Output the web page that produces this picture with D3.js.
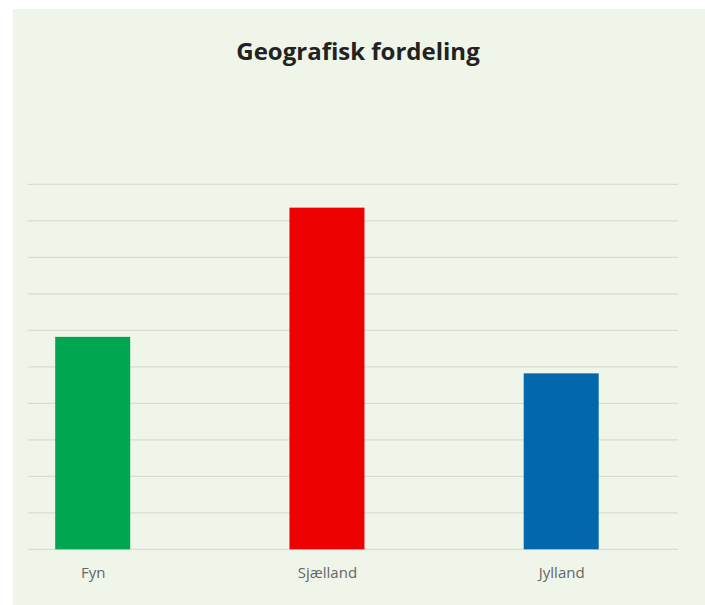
<!DOCTYPE html>
<html>
<head>
<meta charset="utf-8">
<script src="https://cdn.jsdelivr.net/npm/d3@7"></script>
<style>
  html, body { margin: 0; padding: 0; background: #ffffff; }
  svg { display: block; }
</style>
</head>
<body>
<svg id="chart" width="705" height="605"></svg>
<script>
const title = "Geografisk fordeling";
const categories = ["Fyn", "Sjælland", "Jylland"];
const values = [29.1, 46.8, 24.1];
const barColors = ["#00a650", "#ee0000", "#0268ad"];
const yTicks = [0, 5, 10, 15, 20, 25, 30, 35, 40, 45, 50];

const svg = d3.select("#chart");

svg.append("rect")
  .attr("x", 13).attr("y", 9)
  .attr("width", 692).attr("height", 596)
  .attr("fill", "#eff5e8");

const plotLeft = 28, plotRight = 678;
const y = d3.scaleLinear().domain([0, 50]).range([549.3, 184.3]);
const x = d3.scalePoint().domain(categories).range([92.7, 561.2]);
const barW = 75;

// gridlines
svg.append("g").selectAll("line")
  .data(yTicks)
  .join("line")
  .attr("x1", plotLeft).attr("x2", plotRight)
  .attr("y1", d => y(d)).attr("y2", d => y(d))
  .attr("stroke", "#d8ddd2")
  .attr("stroke-width", 1.3);

// bars
svg.append("g").selectAll("rect")
  .data(categories)
  .join("rect")
  .attr("x", d => x(d) - barW / 2)
  .attr("width", barW)
  .attr("y", (d, i) => y(values[i]))
  .attr("height", (d, i) => y(0) - y(values[i]))
  .attr("fill", (d, i) => barColors[i]);

// x axis labels
const xAxis = d3.axisBottom(x).tickSize(0).tickPadding(0);
const ax = svg.append("g")
  .attr("transform", `translate(0, 567)`)
  .call(xAxis);
ax.select(".domain").remove();
ax.selectAll("text")
  .attr("font-family", "'Open Sans', sans-serif")
  .attr("font-size", 15)
  .attr("fill", "#666666");

// title
svg.append("text")
  .attr("x", 358)
  .attr("y", 60)
  .attr("text-anchor", "middle")
  .attr("font-family", "'Open Sans', sans-serif")
  .attr("font-weight", "bold")
  .attr("font-size", 24)
  .attr("fill", "#222222")
  .text(title);
</script>
</body>
</html>
